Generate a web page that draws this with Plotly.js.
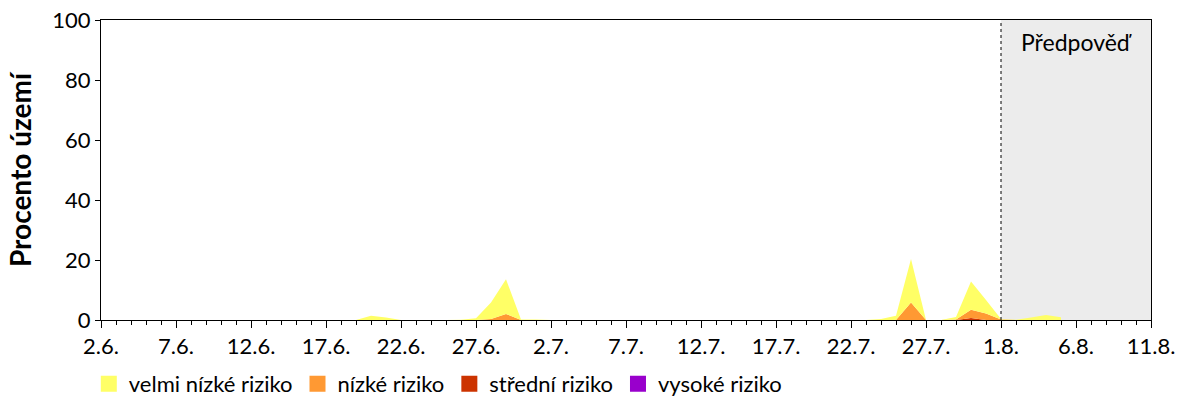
<!DOCTYPE html>
<html>
<head>
<meta charset="utf-8">
<script src="https://cdn.plot.ly/plotly-3.0.1.min.js"></script>
<style>
  body { margin: 0; background: #fff; }
  #graf { width: 1200px; height: 400px; }
</style>
</head>
<body>
<div id="graf"></div>
<script>
// dny od 2.6. do 5.8. (posledni den predpovedi s daty)
var dny = [
  '2025-06-02', '2025-06-03', '2025-06-04', '2025-06-05', '2025-06-06', '2025-06-07', '2025-06-08',
  '2025-06-09', '2025-06-10', '2025-06-11', '2025-06-12', '2025-06-13', '2025-06-14', '2025-06-15',
  '2025-06-16', '2025-06-17', '2025-06-18', '2025-06-19', '2025-06-20', '2025-06-21', '2025-06-22',
  '2025-06-23', '2025-06-24', '2025-06-25', '2025-06-26', '2025-06-27', '2025-06-28', '2025-06-29',
  '2025-06-30', '2025-07-01', '2025-07-02', '2025-07-03', '2025-07-04', '2025-07-05', '2025-07-06',
  '2025-07-07', '2025-07-08', '2025-07-09', '2025-07-10', '2025-07-11', '2025-07-12', '2025-07-13',
  '2025-07-14', '2025-07-15', '2025-07-16', '2025-07-17', '2025-07-18', '2025-07-19', '2025-07-20',
  '2025-07-21', '2025-07-22', '2025-07-23', '2025-07-24', '2025-07-25', '2025-07-26', '2025-07-27',
  '2025-07-28', '2025-07-29', '2025-07-30', '2025-07-31', '2025-08-01', '2025-08-02', '2025-08-03',
  '2025-08-04', '2025-08-05'
];

// procento uzemi v jednotlivych kategoriich rizika (vrstvy se scitaji)
var velmiNizke = [
  0, 0, 0, 0, 0, 0, 0,
  0, 0, 0, 0, 0, 0, 0,
  0, 0, 0, 0, 1.4, 0.8, 0,
  0, 0, 0, 0.1, 0.6, 5.5, 11.6,
  0.2, 0.2, 0, 0, 0, 0, 0,
  0, 0, 0, 0, 0, 0, 0,
  0, 0, 0, 0, 0, 0, 0,
  0, 0, 0, 0.3, 1.4, 14.5, 0,
  0, 0.8, 9.4, 4.5, 0.1, 0.1, 0.8,
  1.7, 0.9
];
var nizke = [
  0, 0, 0, 0, 0, 0, 0,
  0, 0, 0, 0, 0, 0, 0,
  0, 0, 0, 0, 0, 0, 0,
  0, 0, 0, 0, 0, 0.3, 2.0,
  0, 0, 0, 0, 0, 0, 0,
  0, 0, 0, 0, 0, 0, 0,
  0, 0, 0, 0, 0, 0, 0,
  0, 0, 0, 0, 0, 5.8, 0,
  0, 0.2, 2.7, 2.2, 0.2, 0, 0,
  0, 0
];
var stredni = [
  0, 0, 0, 0, 0, 0, 0,
  0, 0, 0, 0, 0, 0, 0,
  0, 0, 0, 0, 0, 0, 0,
  0, 0, 0, 0, 0, 0, 0,
  0, 0, 0, 0, 0, 0, 0,
  0, 0, 0, 0, 0, 0, 0,
  0, 0, 0, 0, 0, 0, 0,
  0, 0, 0, 0, 0, 0, 0,
  0, 0, 0.7, 0, 0, 0, 0,
  0, 0
];
var vysoke = [
  0, 0, 0, 0, 0, 0, 0,
  0, 0, 0, 0, 0, 0, 0,
  0, 0, 0, 0, 0, 0, 0,
  0, 0, 0, 0, 0, 0, 0,
  0, 0, 0, 0, 0, 0, 0,
  0, 0, 0, 0, 0, 0, 0,
  0, 0, 0, 0, 0, 0, 0,
  0, 0, 0, 0, 0, 0, 0,
  0, 0, 0, 0, 0, 0, 0,
  0, 0
];

var nazvy = ['velmi nízké riziko', 'nízké riziko', 'střední riziko', 'vysoké riziko'];
var barvy = ['#ffff66', '#ff9933', '#cc3300', '#9900cc'];
var hodnoty = [velmiNizke, nizke, stredni, vysoke];

var zacatekPredpovedi = '2025-08-01';
var konecOsy = '2025-08-11';

var data = [];

// plochy - od nejvyssiho rizika dole po nejnizsi nahore
for (var i = 3; i >= 0; i--) {
  data.push({
    x: dny,
    y: hodnoty[i],
    type: 'scatter',
    mode: 'none',
    stackgroup: 'riziko',
    fillcolor: barvy[i],
    line: { width: 0 },
    showlegend: false,
    name: nazvy[i],
  });
}

// legenda se ctvercovymi znackami
for (var j = 0; j < 4; j++) {
  data.push({
    x: [null],
    y: [null],
    type: 'scatter',
    mode: 'markers',
    marker: { symbol: 'square', size: 22, color: barvy[j] },
    name: nazvy[j],
  });
}

var layout = {
  width: 1200,
  height: 400,
  margin: { l: 101, r: 49, t: 20, b: 80 },
  paper_bgcolor: '#ffffff',
  plot_bgcolor: '#ffffff',
  font: { family: 'Lato, sans-serif', size: 22, color: '#000' },
  xaxis: {
    type: 'date',
    range: ['2025-06-02', konecOsy],
    tick0: '2025-06-02',
    dtick: 5 * 86400000,
    tickformat: '%-d.%-m.',
    ticks: 'outside',
    ticklen: 7,
    tickcolor: '#000',
    minor: { dtick: 86400000, ticks: 'outside', ticklen: 4, tickcolor: '#000' },
    showline: true,
    linecolor: '#000',
    linewidth: 1,
    mirror: true,
    showgrid: false,
    zeroline: false,
    automargin: false,
  },
  yaxis: {
    range: [0, 100],
    dtick: 20,
    ticks: 'outside',
    ticklen: 5,
    tickcolor: '#000',
    showline: true,
    linecolor: '#000',
    linewidth: 1,
    mirror: true,
    showgrid: false,
    zeroline: false,
    automargin: false,
    title: { text: 'Procento území', font: { size: 28, weight: 'bold' }, standoff: 12 },
  },
  legend: {
    orientation: 'h',
    x: 0.074,
    xref: 'container',
    xanchor: 'left',
    y: 0.04,
    yref: 'container',
    yanchor: 'middle',
    traceorder: 'normal',
    font: { size: 22 },
  },
  shapes: [
    {
      type: 'rect',
      xref: 'x',
      yref: 'paper',
      x0: zacatekPredpovedi,
      x1: konecOsy,
      y0: 0,
      y1: 1,
      fillcolor: '#ececec',
      line: { width: 0 },
      layer: 'below',
    },
    {
      type: 'line',
      xref: 'x',
      yref: 'paper',
      x0: zacatekPredpovedi,
      x1: zacatekPredpovedi,
      y0: 0,
      y1: 1,
      line: { color: '#000', width: 1, dash: '3px,3px' },
    },
  ],
  annotations: [
    {
      x: '2025-08-06',
      y: 0.927,
      xref: 'x',
      yref: 'paper',
      yanchor: 'middle',
      text: 'Předpověď',
      showarrow: false,
      font: { size: 23 },
    },
  ],
};

Plotly.newPlot('graf', data, layout, { displayModeBar: false, staticPlot: true });
</script>
</body>
</html>
